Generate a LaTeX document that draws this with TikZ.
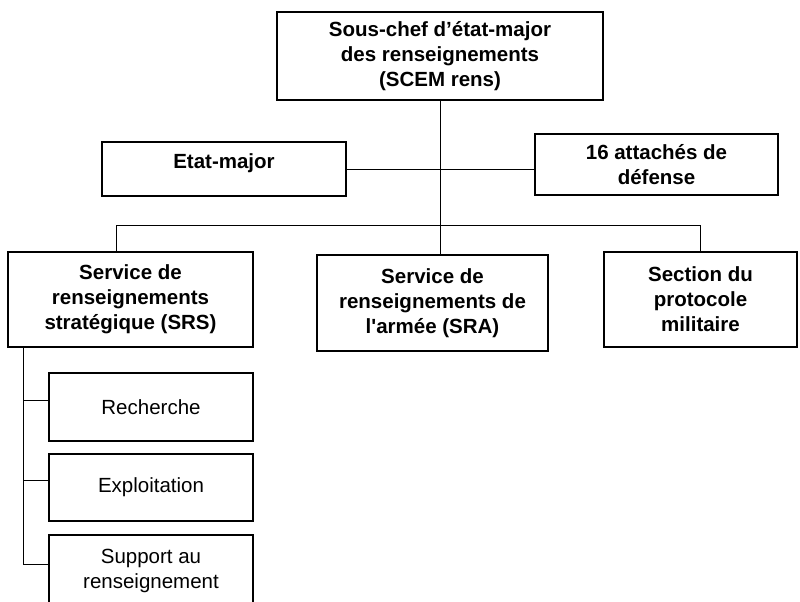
\documentclass[tikz,border=0pt]{standalone}
\usepackage{fontspec}
\setmainfont{Liberation Sans}
\usetikzlibrary{positioning}

\begin{document}
\begin{tikzpicture}[
  x=1pt, y=-1pt,
  unit/.style={rectangle, draw, line width=1.3pt, align=center, inner sep=2pt, font=\fontsize{20.5}{25}\selectfont\bfseries},
  subunit/.style={unit, font=\fontsize{20.5}{25}\selectfont, minimum width=204pt},
  link/.style={line width=0.9pt}
]
  \useasboundingbox (0,0) rectangle (800,602);
  \clip (0,0) rectangle (800,602);

  \node[unit, minimum width=326pt, minimum height=88pt] (scem) at (440,56) {Sous-chef d'état-major\\des renseignements\\(SCEM rens)};
  \node[unit, minimum width=244pt, minimum height=54pt, text depth=16pt] (etat) at (224,169) {Etat-major};
  \node[unit, minimum width=243pt, minimum height=61pt] (att) at (656.5,164.5) {16 attachés de\\défense};

  \node[unit, minimum width=245pt, minimum height=95pt] (srs) at (130.5,299.5) {Service de\\renseignements\\stratégique (SRS)};
  \node[unit, minimum width=231pt, minimum height=96pt] (sra) at (432.5,303) {Service de\\renseignements de\\l\textquotesingle armée (SRA)};
  \node[unit, minimum width=193pt, minimum height=95pt] (sect) at (700.5,299.5) {Section du\\protocole\\militaire};

  \node[subunit, minimum height=68pt] (rech) at (151,407) {Recherche};
  \node[subunit, minimum height=67pt] (expl) at (151,487.5) {Exploitation};
  \node[subunit, minimum height=72pt] (supp) at (151,571) {Support au\\renseignement};

  \coordinate (hub) at (440,225);
  \coordinate (barL) at (116,225);
  \coordinate (barR) at (700,225);
  \coordinate (trunk) at (23,564);

  \draw[link] (scem) -- (hub);
  \draw[link] (etat.east) -- (etat.east -| att.west);
  \draw[link] (barL) -- (barR);
  \draw[link] (barL) -- (barL |- srs.north);
  \draw[link] (hub) -- (hub |- sra.north);
  \draw[link] (barR) -- (barR |- sect.north);
  \draw[link] (srs.south -| trunk) -- (trunk);
  \foreach \n in {rech, expl, supp}
    \draw[link] ([yshift=7pt]\n.west) -- ([yshift=7pt]\n.west -| trunk);
\end{tikzpicture}
\end{document}
